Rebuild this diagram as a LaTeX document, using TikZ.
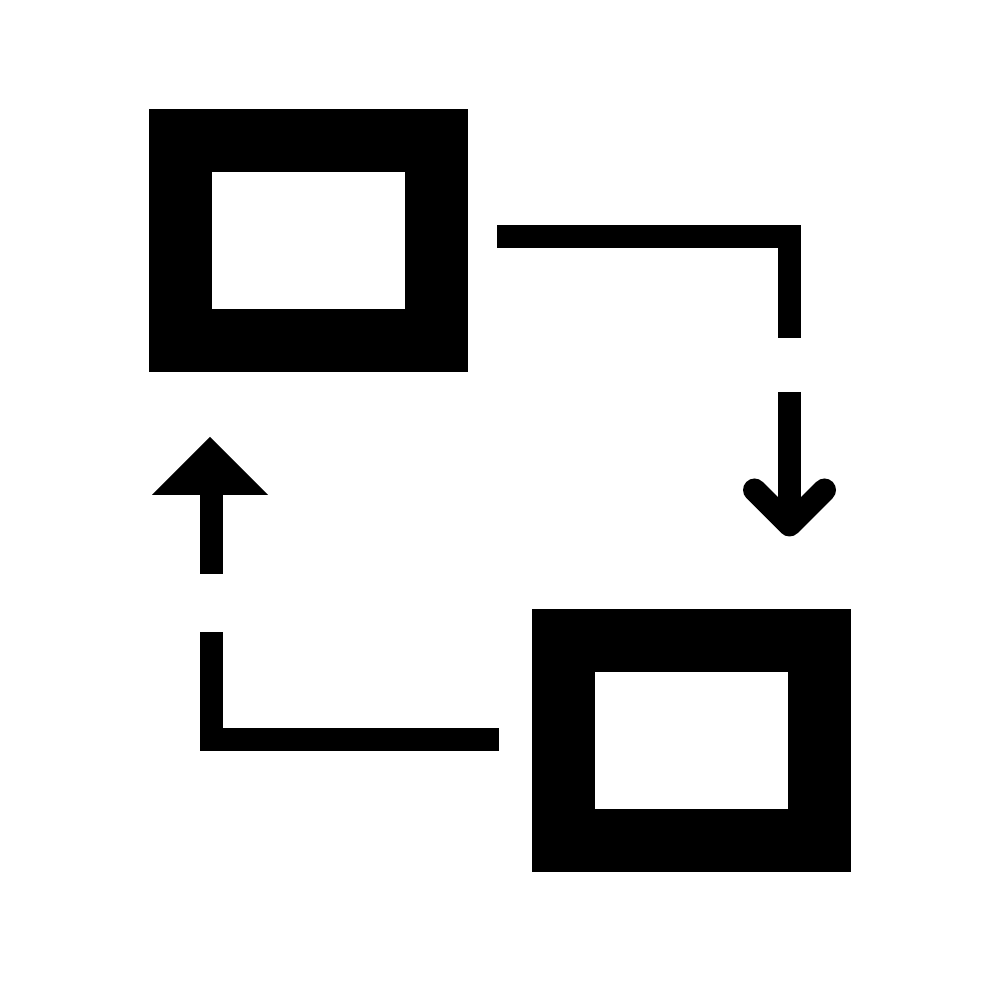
\documentclass[tikz,border=0pt]{standalone}
\usetikzlibrary{positioning}

\begin{document}
\begin{tikzpicture}[
        frame/.style={draw=black, line width=0.63cm, minimum width=2.56cm, minimum height=2.0cm, inner sep=0pt},
        link/.style={draw=black, line width=0.23cm},
        barb/.style={draw=black, line width=0.23cm, line cap=round, line join=round}
    ]
      \useasboundingbox (0,0) rectangle (10,10);

      % The two boxes
      \node[frame] (upper) at (3.085,7.595) {};
      \node[frame] (lower) at (6.915,2.595) {};

      % Upper to lower
      \coordinate (outA) at (4.97,7.635);
      \coordinate (bendA) at (7.895,6.62);
      \coordinate (shaftA) at (7.895,6.08);
      \coordinate (tipA) at (7.895,4.75);
      \draw[link] (outA) -| (bendA);
      \draw[link] (shaftA) -- (tipA);
      \draw[barb] (7.545,5.10) -- (tipA) -- (8.245,5.10);

      % Lower back to upper
      \coordinate (outB) at (4.99,2.605);
      \coordinate (bendB) at (2.115,3.68);
      \coordinate (shaftB) at (2.115,4.26);
      \coordinate (tipB) at (2.115,5.05);
      \draw[link] (outB) -| (bendB);
      \draw[link] (shaftB) -- (tipB);
      \fill[black] (1.52,5.05) -- (2.10,5.63) -- (2.68,5.05) -- cycle;
    \end{tikzpicture}
\end{document}
